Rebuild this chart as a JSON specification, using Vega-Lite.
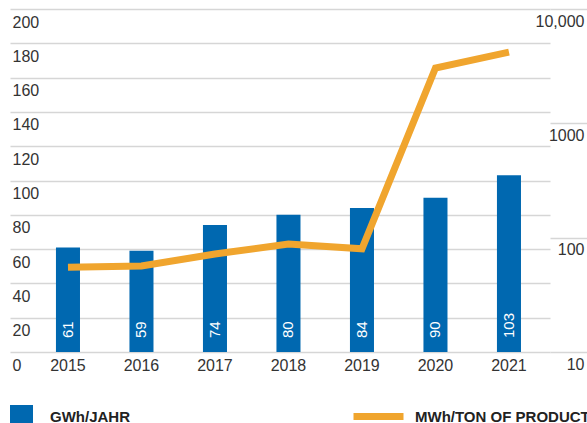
{
  "$schema": "https://vega.github.io/schema/vega-lite/v6.json",
  "width": 540,
  "height": 343,
  "autosize": "none",
  "padding": {"left": 10, "top": 9, "right": 37, "bottom": 71},
  "background": "white",
  "config": {
    "view": {"stroke": null},
    "font": "Liberation Sans",
    "axis": {"labelFont": "Liberation Sans", "labelFontSize": 16, "labelColor": "#333333"}
  },
  "data": {
    "values": [
      {"year": "2015", "gwh": 61, "mwh": 55},
      {"year": "2016", "gwh": 59, "mwh": 56.5},
      {"year": "2017", "gwh": 74, "mwh": 72},
      {"year": "2018", "gwh": 80, "mwh": 88},
      {"year": "2019", "gwh": 84, "mwh": 80},
      {"year": "2020", "gwh": 90, "mwh": 3050},
      {"year": "2021", "gwh": 103, "mwh": 4200}
    ]
  },
  "encoding": {
    "x": {
      "field": "year",
      "type": "ordinal",
      "scale": {"paddingInner": 0.673, "paddingOuter": 0.51, "align": 0.613},
      "axis": {"title": null, "ticks": false, "domain": false, "grid": false, "labelAngle": 0, "labelBaseline": "middle", "labelPadding": 13}
    }
  },
  "layer": [
    {
      "encoding": {
        "y": {
          "field": "gwh",
          "type": "quantitative",
          "scale": {"domain": [0, 200]},
          "axis": {
            "title": null,
            "orient": "left",
            "values": [0, 20, 40, 60, 80, 100, 120, 140, 160, 180, 200],
            "ticks": false,
            "domain": false,
            "grid": true,
            "gridColor": "#d6d6d6",
            "gridWidth": 1.5,
            "labelAlign": "left",
            "labelPadding": -2,
            "labelBaseline": "middle",
            "labelOffset": 13
          }
        }
      },
      "layer": [
        {
          "mark": {"type": "bar"},
          "encoding": {
            "color": {
              "datum": "GWh/JAHR",
              "scale": {"range": ["#0068b0"]},
              "legend": {
                "title": null,
                "orient": "none",
                "legendX": 0,
                "legendY": 396,
                "padding": 0,
                "symbolType": "square",
                "symbolSize": 529,
                "symbolStrokeWidth": 0,
                "labelOffset": 17,
                "labelLimit": 300,
                "labelFont": "Liberation Sans",
                "labelFontWeight": "bold",
                "labelFontSize": 15,
                "labelColor": "#222222",
                "labelBaseline": "middle"
              }
            }
          }
        },
        {
          "mark": {"type": "text", "angle": 270, "align": "left", "baseline": "middle", "dx": 14, "color": "white", "fontSize": 15, "font": "Liberation Sans"},
          "encoding": {
            "y": {"datum": 0, "type": "quantitative"},
            "text": {"field": "gwh", "type": "quantitative"}
          }
        }
      ]
    },
    {
      "mark": {"type": "line", "strokeWidth": 7, "strokeCap": "butt", "strokeJoin": "miter"},
      "encoding": {
        "y": {
          "field": "mwh",
          "type": "quantitative",
          "scale": {"type": "log", "domain": [10, 10000]},
          "axis": {
            "title": null,
            "orient": "right",
            "values": [10, 100, 1000, 10000],
            "ticks": true,
            "tickSize": 37,
            "tickColor": "#d6d6d6",
            "tickWidth": 1.5,
            "tickOpacity": 1,
            "domain": false,
            "grid": false,
            "labelAlign": "right",
            "labelPadding": -3,
            "labelBaseline": "middle",
            "labelOffset": 12,
            "labelExpr": "datum.value == 10000 ? '10,000' : format(datum.value, 'd')"
          }
        },
        "stroke": {
          "datum": "MWh/TON OF PRODUCT",
          "scale": {"range": ["#f0a52e"]},
          "legend": {
            "title": null,
            "orient": "none",
            "legendX": 340,
            "legendY": 379,
            "padding": 0,
            "symbolType": "stroke",
            "symbolSize": 2500,
            "symbolStrokeWidth": 7,
            "labelOffset": 8,
            "labelLimit": 300,
            "labelFont": "Liberation Sans",
            "labelFontWeight": "bold",
            "labelFontSize": 15,
            "labelColor": "#222222",
            "labelBaseline": "middle"
          }
        }
      }
    }
  ],
  "resolve": {"scale": {"y": "independent"}, "axis": {"y": "independent"}}
}
